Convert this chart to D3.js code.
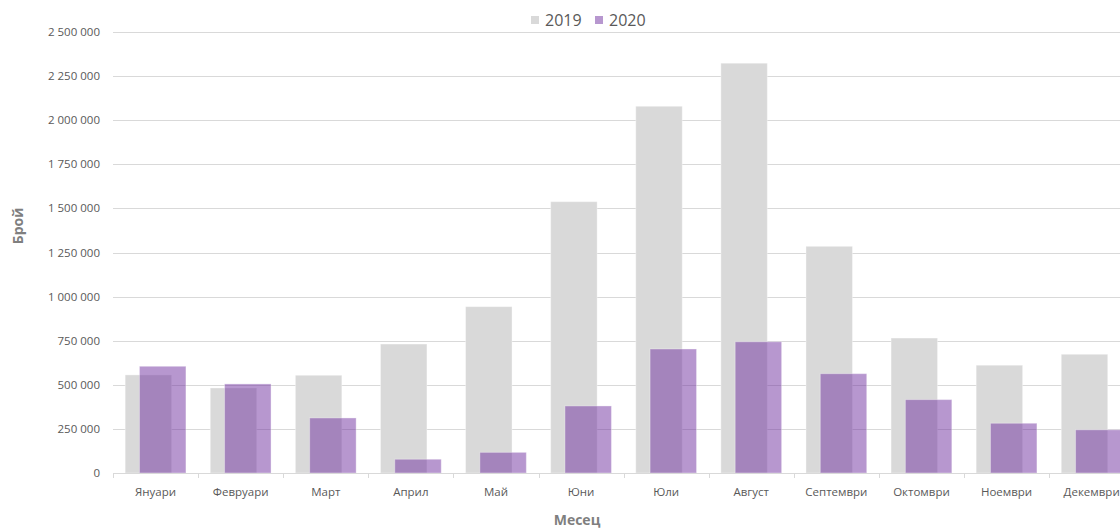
<!DOCTYPE html>
<html>
<head>
<meta charset="utf-8">
<script src="https://cdn.jsdelivr.net/npm/d3@7"></script>
<style>
  html, body { margin: 0; padding: 0; background: #fff; }
  svg { display: block; font-family: "Open Sans", "Noto Sans", sans-serif; }
</style>
</head>
<body>
<svg id="chart" width="1120" height="529"></svg>
<script>
const months = ["Януари","Февруари","Март","Април","Май","Юни","Юли","Август","Септември","Октомври","Ноември","Декември"];
const series = ["2019","2020"];
const values2019 = [556000, 482000, 554000, 731000, 943000, 1538000, 2079000, 2323000, 1285000, 765000, 611000, 673000];
const values2020 = [605000, 505000, 312000, 78000, 117000, 380000, 703000, 744000, 563000, 416000, 282000, 245000];
const yTicks = [0, 250000, 500000, 750000, 1000000, 1250000, 1500000, 1750000, 2000000, 2250000, 2500000];
const colors = { "2019": "#d9d9d9", "2020": "#7030a0" };

const svg = d3.select("#chart");
const plotLeft = 113, plotRight = 1134.2, plotTop = 32, plotBottom = 473;

const x = d3.scaleBand().domain(months).range([plotLeft, plotRight]).padding(0);
const y = d3.scaleLinear().domain([0, 2500000]).range([plotBottom, plotTop]);
const bw = x.bandwidth();
const barW = bw * 0.546;
const offs = { "2019": bw * 0.143, "2020": bw * 0.311 };

const fmt = d3.formatLocale({ thousands: " ", grouping: [3], decimal: ",", currency: ["", ""] }).format(",d");

// gridlines
svg.append("g").selectAll("line").data(yTicks.filter(d => d > 0)).join("line")
  .attr("x1", plotLeft).attr("x2", 1120)
  .attr("y1", d => Math.round(y(d)) + 0.5).attr("y2", d => Math.round(y(d)) + 0.5)
  .attr("stroke", "#d9d9d9").attr("stroke-width", 1);

// y labels
svg.append("g").selectAll("text").data(yTicks).join("text")
  .attr("x", 100).attr("y", d => y(d)).attr("dy", "0.35em")
  .attr("text-anchor", "end").attr("font-size", 11.5).attr("fill", "#595959")
  .text(d => fmt(d));

// bars
const data = series.map(s => ({ s, vals: s === "2019" ? values2019 : values2020 }));
data.forEach(ser => {
  svg.append("g").selectAll("rect").data(ser.vals).join("rect")
    .attr("x", (d, i) => x(months[i]) + offs[ser.s])
    .attr("y", d => y(d))
    .attr("width", barW)
    .attr("height", d => plotBottom - y(d))
    .attr("fill", colors[ser.s])
    .attr("fill-opacity", ser.s === "2020" ? 0.5 : 1)
    .attr("stroke", "#ffffff")
    .attr("stroke-opacity", 0.35)
    .attr("stroke-width", 1);
});

// x axis line and ticks
svg.append("line").attr("x1", plotLeft).attr("x2", 1120)
  .attr("y1", plotBottom + 0.5).attr("y2", plotBottom + 0.5)
  .attr("stroke", "#d9d9d9").attr("stroke-width", 1);
svg.append("g").selectAll("line").data(months).join("line")
  .attr("x1", d => Math.round(x(d)) + 0.5).attr("x2", d => Math.round(x(d)) + 0.5)
  .attr("y1", plotBottom).attr("y2", plotBottom + 5)
  .attr("stroke", "#d9d9d9");

// x labels
svg.append("g").selectAll("text").data(months).join("text")
  .attr("x", d => x(d) + bw / 2).attr("y", 496)
  .attr("text-anchor", "middle").attr("font-size", 11.5).attr("fill", "#595959")
  .text(d => d);

// axis titles
svg.append("text").attr("x", 577).attr("y", 525).attr("text-anchor", "middle")
  .attr("font-size", 14).attr("font-weight", "bold").attr("fill", "#7f7f7f").text("Месец");
svg.append("text").attr("transform", "translate(23,226) rotate(-90)").attr("text-anchor", "middle")
  .attr("font-size", 14).attr("font-weight", "bold").attr("fill", "#7f7f7f").text("Брой");

// legend
const legend = [{ s: "2019", x: 531 }, { s: "2020", x: 595 }];
const lg = svg.append("g").selectAll("g").data(legend).join("g");
lg.append("rect").attr("x", d => d.x).attr("y", 16).attr("width", 8).attr("height", 8)
  .attr("fill", d => colors[d.s]).attr("fill-opacity", d => d.s === "2020" ? 0.5 : 1);
lg.append("text").attr("x", d => d.x + 14).attr("y", 26)
  .attr("font-size", 16).attr("fill", "#595959").text(d => d.s);
</script>
</body>
</html>
